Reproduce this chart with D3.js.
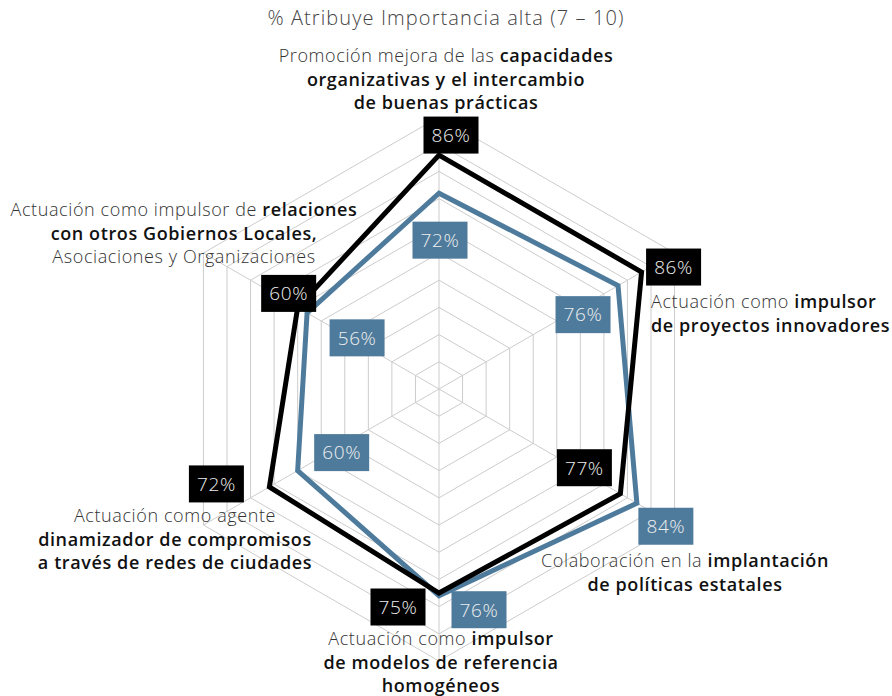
<!DOCTYPE html>
<html>
<head>
<meta charset="utf-8">
<script src="https://cdn.jsdelivr.net/npm/d3@7"></script>
<style>
  body { margin: 0; background: #fff; }
  text { font-family: "Open Sans", "Noto Sans", sans-serif; }
</style>
</head>
<body>
<script>
// ejes, en sentido horario desde arriba
const categorias = [
  'Promoción mejora de las capacidades organizativas y el intercambio de buenas prácticas',
  'Actuación como impulsor de proyectos innovadores',
  'Colaboración en la implantación de políticas estatales',
  'Actuación como impulsor de modelos de referencia homogéneos',
  'Actuación como agente dinamizador de compromisos a través de redes de ciudades',
  'Actuación como impulsor de relaciones con otros Gobiernos Locales, Asociaciones y Organizaciones'
]
const serieNegra = [86, 86, 77, 75, 72, 60]
const serieAzul = [72, 76, 84, 76, 60, 56]
const ticks = [10, 20, 30, 40, 50, 60, 70, 80, 90, 100]
const titulo = '% Atribuye Importancia alta (7 – 10)'

// lineas de cada etiqueta: [texto, negrita]
const etiquetas = [
  [[['Promoción mejora de las ', 0], ['capacidades', 1]], [['organizativas y el intercambio', 1]], [['de buenas prácticas', 1]]],
  [[['Actuación como ', 0], ['impulsor', 1]], [['de proyectos innovadores', 1]]],
  [[['Colaboración en la ', 0], ['implantación', 1]], [['de políticas estatales', 1]]],
  [[['Actuación como ', 0], ['impulsor', 1]], [['de modelos de referencia', 1]], [['homogéneos', 1]]],
  [[['Actuación como agente', 0]], [['dinamizador de compromisos', 1]], [['a través de redes de ciudades', 1]]],
  [[['Actuación como impulsor de ', 0], ['relaciones', 1]], [['con otros Gobiernos Locales,', 1]], [['Asociaciones y Organizaciones', 0]]]
]

const w = 892
const h = 696
const cx = 439
const cy = 389
const R = 272
const azul = '#4e7b9c'

const svg = d3.select('body').append('svg')
  .attr('width', w)
  .attr('height', h)

const r = d3.scaleLinear().domain([0, 100]).range([0, R])
const ang = d3.scaleLinear().domain([0, categorias.length]).range([0, 2 * Math.PI])

const punto = (i, v) => [cx + r(v) * Math.sin(ang(i)), cy - r(v) * Math.cos(ang(i))]

// rejilla
const grid = svg.append('g')
ticks.forEach(t => {
  grid.append('polygon')
    .attr('points', categorias.map((c, i) => punto(i, t).join(',')).join(' '))
    .attr('fill', 'none')
    .attr('stroke', '#cccccc')
    .attr('stroke-width', 1)
})
categorias.forEach((c, i) => {
  const p = punto(i, 100)
  grid.append('line')
    .attr('x1', cx).attr('y1', cy)
    .attr('x2', p[0]).attr('y2', p[1])
    .attr('stroke', '#cccccc')
})

// series
const linea = d3.lineRadial()
  .angle((d, i) => ang(i))
  .radius(d => r(d))
  .curve(d3.curveLinearClosed)

const capa = svg.append('g').attr('transform', `translate(${cx},${cy})`)
capa.append('path')
  .attr('d', linea(serieAzul))
  .attr('fill', 'none')
  .attr('stroke', azul)
  .attr('stroke-width', 5)
  .attr('stroke-linejoin', 'miter')
capa.append('path')
  .attr('d', linea(serieNegra))
  .attr('fill', 'none')
  .attr('stroke', '#000')
  .attr('stroke-width', 5)
  .attr('stroke-linejoin', 'miter')

// desplazamiento de cada caja respecto a su vertice
const despNegra = [[12, -20], [32, -5], [-36, -26], [-41, 14], [-53, -3], [-9, -14]]
const despAzul = [[1, 47], [-35, 29], [29, 23], [40, 14], [44, -18], [50, 25]]

function cajas(datos, desp, color) {
  datos.forEach((v, i) => {
    const p = punto(i, v)
    const x = p[0] + desp[i][0]
    const y = p[1] + desp[i][1]
    const g = svg.append('g').attr('transform', `translate(${x},${y})`)
    g.append('rect')
      .attr('x', -27.5).attr('y', -18.5)
      .attr('width', 55).attr('height', 37)
      .attr('fill', color)
    g.append('text')
      .attr('text-anchor', 'middle')
      .attr('dy', '0.36em')
      .style('font-size', '19px')
      .style('font-weight', 300)
      .style('letter-spacing', '0.6px')
      .attr('fill', '#eeeeee')
      .text(v + '%')
  })
}
cajas(serieNegra, despNegra, '#000')
cajas(serieAzul, despAzul, azul)

// titulo
svg.append('text')
  .attr('x', 446).attr('y', 25)
  .attr('text-anchor', 'middle')
  .style('font-size', '20px')
  .style('font-weight', 300)
  .style('letter-spacing', '1.1px')
  .attr('fill', '#444')
  .text(titulo)

// etiquetas de ejes
const posEtiqueta = [
  { x: 446, y: 62, anchor: 'middle' },
  { x: 651, y: 308, anchor: 'start' },
  { x: 685, y: 567, anchor: 'middle' },
  { x: 441, y: 645, anchor: 'middle' },
  { x: 175, y: 522, anchor: 'middle' },
  { x: 184, y: 216, anchor: 'middle' }
]
const interlinea = 23.5

etiquetas.forEach((lineas, i) => {
  const pos = posEtiqueta[i]
  const t = svg.append('text')
    .attr('text-anchor', pos.anchor)
    .style('font-size', '18px')
    .style('letter-spacing', '0.6px')
  lineas.forEach((partes, j) => {
    partes.forEach((p, k) => {
      const ts = t.append('tspan')
        .style('font-weight', p[1] ? 600 : 300)
        .attr('fill', p[1] ? '#111' : '#333')
        .text(p[0])
      if (k === 0) ts.attr('x', pos.x).attr('y', pos.y + j * interlinea)
    })
  })
})
</script>
</body>
</html>
